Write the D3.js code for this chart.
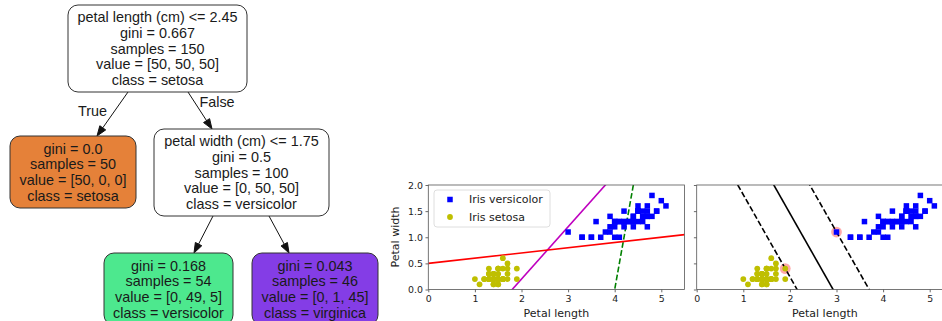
<!DOCTYPE html>
<html>
<head>
<meta charset="utf-8">
<script src="https://cdn.jsdelivr.net/npm/d3@7"></script>
<style>
  body { margin: 0; background: #fff; }
  svg { display: block; }
</style>
</head>
<body>
<svg id="chart" width="942" height="321"></svg>
<script>
// ---------- data ----------
const treeNodeIds = ['root', 'setosa', 'split2', 'versicolor', 'virginica'];
const treeNodeLines = {
    root: ['petal length (cm) <= 2.45', 'gini = 0.667', 'samples = 150', 'value = [50, 50, 50]', 'class = setosa'],
    setosa: ['gini = 0.0', 'samples = 50', 'value = [50, 0, 0]', 'class = setosa'],
    split2: ['petal width (cm) <= 1.75', 'gini = 0.5', 'samples = 100', 'value = [0, 50, 50]', 'class = versicolor'],
    versicolor: ['gini = 0.168', 'samples = 54', 'value = [0, 49, 5]', 'class = versicolor'],
    virginica: ['gini = 0.043', 'samples = 46', 'value = [0, 1, 45]', 'class = virginica']
};
const treeEdges = [['root', 'setosa', 'True'], ['root', 'split2', 'False'], ['split2', 'versicolor', ''], ['split2', 'virginica', '']];

const setosaLength = [1.4,1.4,1.3,1.5,1.4,1.7,1.4,1.5,1.4,1.5,1.5,1.6,1.4,1.1,1.2,1.5,1.3,1.4,1.7,1.5,1.7,1.5,1.0,1.7,1.9,1.6,1.6,1.5,1.4,1.6,1.6,1.5,1.5,1.4,1.5,1.2,1.3,1.4,1.3,1.5,1.3,1.3,1.3,1.6,1.9,1.4,1.6,1.4,1.5,1.4];
const setosaWidth  = [0.2,0.2,0.2,0.2,0.2,0.4,0.3,0.2,0.2,0.1,0.2,0.2,0.1,0.1,0.2,0.4,0.4,0.3,0.3,0.3,0.2,0.4,0.2,0.5,0.2,0.2,0.4,0.2,0.2,0.2,0.2,0.4,0.1,0.2,0.2,0.2,0.2,0.1,0.2,0.2,0.3,0.3,0.2,0.6,0.4,0.3,0.2,0.2,0.2,0.2];
const versicolorLength = [4.7,4.5,4.9,4.0,4.6,4.5,4.7,3.3,4.6,3.9,3.5,4.2,4.0,4.7,3.6,4.4,4.5,4.1,4.5,3.9,4.8,4.0,4.9,4.7,4.3,4.4,4.8,5.0,4.5,3.5,3.8,3.7,3.9,5.1,4.5,4.5,4.7,4.4,4.1,4.0,4.4,4.6,4.0,3.3,4.2,4.2,4.2,4.3,3.0,4.1];
const versicolorWidth  = [1.4,1.5,1.5,1.3,1.5,1.3,1.6,1.0,1.3,1.4,1.0,1.5,1.0,1.4,1.3,1.4,1.5,1.0,1.5,1.1,1.8,1.3,1.5,1.2,1.3,1.4,1.4,1.7,1.5,1.0,1.1,1.0,1.2,1.6,1.5,1.6,1.5,1.3,1.3,1.3,1.2,1.4,1.2,1.0,1.3,1.2,1.3,1.3,1.1,1.3];

const xTicks = [0, 1, 2, 3, 4, 5];
const yTicks = [0, 0.5, 1.0, 1.5, 2.0];
const xDomain = [0, 5.5];
const yDomain = [0, 2];

// hand-picked "bad" classifiers: width = slope * length + intercept
const badModelSlopes = [5, 1, 0.1];
const badModelIntercepts = [-20, -1.8, 0.5];

// linear SVM (hard margin)
const svmWeights = [1.29411744, 0.82352928];
const svmBias = -3.78823471;
const supportLength = [1.9, 3.0];
const supportWidth = [0.4, 1.1];

const legendLabels = ['Iris versicolor', 'Iris setosa'];

// ---------- layout / styles ----------
const nodeBox = {
    root:       { x0: 68,  x1: 247, y0: 5,   y1: 92 },
    setosa:     { x0: 10,  x1: 136, y0: 136, y1: 208 },
    split2:     { x0: 154, x1: 329, y0: 129, y1: 216 },
    versicolor: { x0: 104, x1: 233, y0: 253, y1: 325 },
    virginica:  { x0: 252, x1: 378, y0: 253, y1: 325 }
};
const nodeFill = { root: '#ffffff', setosa: '#e58139', split2: '#ffffff', versicolor: '#4de88e', virginica: '#843de6' };
// where each edge leaves the parent and hits the child (x only)
const edgeX = { 'root-setosa': [128, 97], 'root-split2': [188, 212], 'split2-versicolor': [213, 194], 'split2-virginica': [269, 289] };
const edgeLabelPos = { True: [92.5, 116], False: [217, 107] };

const svg = d3.select('#chart');
const treeFont = '"Liberation Sans", Arial, Helvetica, sans-serif';
const plotFont = '"DejaVu Sans", sans-serif';
const ink = '#1a1a1a';

// ---------- tree ----------
const tree = svg.append('g').attr('class', 'tree');

treeEdges.forEach(([from, to, label]) => {
    const [xa, xb] = edgeX[from + '-' + to];
    const ya = nodeBox[from].y1, yb = nodeBox[to].y0;
    const ang = Math.atan2(yb - ya, xb - xa);
    const len = 10, half = 3.6;
    const bx = xb - len * Math.cos(ang), by = yb - len * Math.sin(ang);
    tree.append('line')
        .attr('x1', xa).attr('y1', ya).attr('x2', bx).attr('y2', by)
        .attr('stroke', '#111').attr('stroke-width', 1);
    const px = -Math.sin(ang) * half, py = Math.cos(ang) * half;
    tree.append('path')
        .attr('d', `M${xb},${yb}L${bx + px},${by + py}L${bx - px},${by - py}Z`)
        .attr('fill', '#111').attr('stroke', '#111').attr('stroke-width', 1);
    if (label) {
        tree.append('text')
            .attr('x', edgeLabelPos[label][0]).attr('y', edgeLabelPos[label][1])
            .attr('text-anchor', 'middle')
            .style('font-family', treeFont).style('font-size', '14.4px').style('fill', ink)
            .text(label);
    }
});

treeNodeIds.forEach(id => {
    const b = nodeBox[id];
    const g = tree.append('g');
    g.append('rect')
        .attr('x', b.x0).attr('y', b.y0)
        .attr('width', b.x1 - b.x0).attr('height', b.y1 - b.y0)
        .attr('rx', 10).attr('ry', 10)
        .attr('fill', nodeFill[id]).attr('stroke', '#333').attr('stroke-width', 1);
    const lines = treeNodeLines[id];
    const cx = (b.x0 + b.x1) / 2, cy = (b.y0 + b.y1) / 2;
    lines.forEach((t, i) => {
        g.append('text')
            .attr('x', cx).attr('y', cy + (i - (lines.length - 1) / 2) * 15.6)
            .attr('dy', '0.36em')
            .attr('text-anchor', 'middle')
            .style('font-family', treeFont).style('font-size', '14.4px').style('fill', ink)
            .text(t);
    });
});

// ---------- scatter plots ----------
const y = d3.scaleLinear().domain(yDomain).range([289.5, 185]);

function drawPanel(x0px, x1px, clipId, showYLabels) {
    const x = d3.scaleLinear().domain(xDomain).range([x0px, x1px]);
    const g = svg.append('g');

    g.append('clipPath').attr('id', clipId)
        .append('rect')
        .attr('x', x(xDomain[0])).attr('y', y(yDomain[1]))
        .attr('width', x(xDomain[1]) - x(xDomain[0]))
        .attr('height', y(yDomain[0]) - y(yDomain[1]));

    const xAxis = g.append('g')
        .attr('transform', `translate(0,${y(0)})`)
        .call(d3.axisBottom(x).tickValues(xTicks).tickFormat(d3.format('d')).tickSize(2.8).tickPadding(2.6));
    const yAxis = g.append('g')
        .attr('transform', `translate(${x(0)},0)`)
        .call(d3.axisLeft(y).tickValues(yTicks)
            .tickFormat(showYLabels ? d3.format('.1f') : () => '')
            .tickSize(2.8).tickPadding(2.6));
    [xAxis, yAxis].forEach(a => {
        a.select('.domain').remove();
        a.selectAll('line').attr('stroke', '#444').attr('stroke-width', 0.8);
        a.selectAll('text').style('font-family', plotFont).style('font-size', '9.4px').style('fill', '#222');
    });

    g.append('text')
        .attr('x', (x(xDomain[0]) + x(xDomain[1])) / 2).attr('y', 316.5)
        .attr('text-anchor', 'middle')
        .style('font-family', plotFont).style('font-size', '11px').style('fill', '#222')
        .text('Petal length');

    const plot = g.append('g').attr('clip-path', `url(#${clipId})`);
    return { x, g, plot };
}

function drawPoints(plot, x) {
    plot.append('g').selectAll('rect')
        .data(d3.range(versicolorLength.length))
        .join('rect')
        .attr('x', i => x(versicolorLength[i]) - 2.75)
        .attr('y', i => y(versicolorWidth[i]) - 2.75)
        .attr('width', 5.5).attr('height', 5.5)
        .attr('fill', '#0000ff');
    plot.append('g').selectAll('circle')
        .data(d3.range(setosaLength.length))
        .join('circle')
        .attr('cx', i => x(setosaLength[i]))
        .attr('cy', i => y(setosaWidth[i]))
        .attr('r', 2.9)
        .attr('fill', '#bfbf00');
}

function frame(g, x) {
    g.append('rect')
        .attr('x', x(xDomain[0])).attr('y', y(yDomain[1]))
        .attr('width', x(xDomain[1]) - x(xDomain[0]))
        .attr('height', y(yDomain[0]) - y(yDomain[1]))
        .attr('fill', 'none').attr('stroke', '#555').attr('stroke-width', 0.8);
}

const lineGen = (x, f) => d3.line().x(d => x(d)).y(d => y(f(d)));

// left panel: bad models
const left = drawPanel(428.3, 684.6, 'clipL', true);
const badStyles = [
    { color: '#008000', dash: '5.8,2.5' },
    { color: '#bf00bf', dash: null },
    { color: '#ff0000', dash: null }
];
badModelSlopes.forEach((s, k) => {
    left.plot.append('path')
        .attr('d', lineGen(left.x, v => s * v + badModelIntercepts[k])(xDomain))
        .attr('fill', 'none')
        .attr('stroke', badStyles[k].color).attr('stroke-width', 1.6)
        .attr('stroke-dasharray', badStyles[k].dash);
});
drawPoints(left.plot, left.x);
frame(left.g, left.x);

// y label
left.g.append('text')
    .attr('transform', `translate(399,237) rotate(-90)`)
    .attr('text-anchor', 'middle')
    .style('font-family', plotFont).style('font-size', '11px').style('fill', '#222')
    .text('Petal width');

// legend
const legend = left.g.append('g');
legend.append('rect')
    .attr('x', 434).attr('y', 190).attr('width', 116).attr('height', 37)
    .attr('rx', 3).attr('fill', '#fff').attr('fill-opacity', 0.8)
    .attr('stroke', '#d6d6d6').attr('stroke-width', 0.8);
legend.append('rect').attr('x', 450 - 2.75).attr('y', 199.5 - 2.75).attr('width', 5.5).attr('height', 5.5).attr('fill', '#0000ff');
legend.append('circle').attr('cx', 450).attr('cy', 217).attr('r', 2.9).attr('fill', '#bfbf00');
legendLabels.forEach((t, i) => {
    legend.append('text')
        .attr('x', 469).attr('y', 199.5 + i * 17.5).attr('dy', '0.36em')
        .style('font-family', plotFont).style('font-size', '11px').style('fill', '#222')
        .text(t);
});

// right panel: SVM decision boundary and margins
const right = drawPanel(696.7, 953.0, 'clipR', false);
const margin = 1 / svmWeights[1];
const boundary = v => -svmWeights[0] / svmWeights[1] * v - svmBias / svmWeights[1];
right.plot.selectAll('circle.sv')
    .data(d3.range(supportLength.length))
    .join('circle')
    .attr('class', 'sv')
    .attr('cx', i => right.x(supportLength[i]))
    .attr('cy', i => y(supportWidth[i]))
    .attr('r', 5.4)
    .attr('fill', '#ffaaaa');
right.plot.append('path')
    .attr('d', lineGen(right.x, boundary)(xDomain))
    .attr('fill', 'none').attr('stroke', '#000').attr('stroke-width', 1.6);
[margin, -margin].forEach(m => {
    right.plot.append('path')
        .attr('d', lineGen(right.x, v => boundary(v) + m)(xDomain))
        .attr('fill', 'none').attr('stroke', '#000').attr('stroke-width', 1.6)
        .attr('stroke-dasharray', '5.8,2.5');
});
drawPoints(right.plot, right.x);
frame(right.g, right.x);
</script>
</body>
</html>
